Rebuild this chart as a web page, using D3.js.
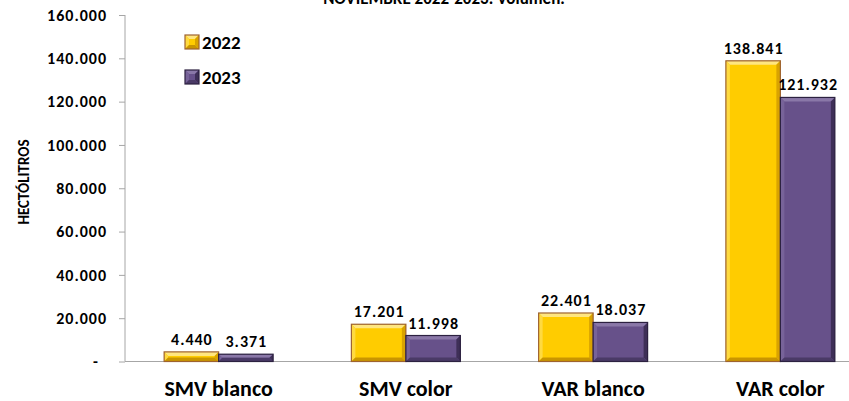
<!DOCTYPE html>
<html><head><meta charset="utf-8">
<script src="https://cdn.jsdelivr.net/npm/d3@7"></script>
<style>body{margin:0;background:#fff}svg{display:block}text{font-family:Calibri,Carlito,"Open Sans",sans-serif}</style>
</head><body>
<svg id="c" width="849" height="401"></svg>
<script>
const categories = ["SMV blanco","SMV color","VAR blanco","VAR color"];
const years = ["2022","2023"];
const values2022 = [4440,17201,22401,138841];
const values2023 = [3371,11998,18037,121932];
const yTicks = [0,20000,40000,60000,80000,100000,120000,140000,160000];
const title = "NOVIEMBRE 2022-2023. Volumen.";
const yTitle = "HECTÓLITROS";

const svg = d3.select("#c");
const fmt = v => v === 0 ? "-" : d3.format(",")(v).replace(/,/g, ".");
const y = d3.scaleLinear().domain([0,160000]).range([361.5,15]);
const x = d3.scaleBand().domain(categories).range([125,874]).paddingInner(0.418).paddingOuter(0.209);
const xs = d3.scaleBand().domain(years).range([0,x.bandwidth()]);

const styles = {
  "2022": {fill:"#FFCC00", top:"#FFE680", left:"#FFDA40", right:"#D9A300", bottom:"#C99500", border:"#9E6330"},
  "2023": {fill:"#67518A", top:"#8A78A8", left:"#776399", right:"#3E2F57", bottom:"#4A3A66", border:"#2C2140"}
};

// title (clipped at top, as in the source image)
svg.append("text").attr("x",444).attr("y",4).attr("text-anchor","middle")
  .attr("font-size",17).attr("font-weight","bold").text(title);

// y axis
const yAxis = d3.axisLeft(y).tickValues(yTicks).tickSize(6).tickFormat(fmt);
const ga = svg.append("g").attr("transform","translate(125,0)").call(yAxis);
ga.select(".domain").attr("stroke","#A6A6A6").attr("d","M0,15V361.5");
ga.selectAll(".tick line").attr("stroke","#A6A6A6");
ga.selectAll(".tick text").attr("font-size",16).attr("font-weight","bold").attr("fill","#000")
  .attr("x", d => d === 0 ? -26 : -18)
  .attr("letter-spacing","1px")
  .attr("font-family","Calibri,Carlito,'Open Sans',sans-serif");

// baseline
svg.append("line").attr("x1",125).attr("x2",849).attr("y1",y(0)).attr("y2",y(0)).attr("stroke","#A6A6A6");

// y title
svg.append("text").attr("transform","translate(29,182) rotate(-90)").attr("text-anchor","middle")
  .attr("font-size",15).attr("font-weight","bold").text(yTitle);

const data = [];
categories.forEach((c,i)=>{
  data.push({cat:c, year:"2022", v:values2022[i]});
  data.push({cat:c, year:"2023", v:values2023[i]});
});

function bevelBar(g, x0, y0, w, h, st){
  const b = Math.min(4, h/2, w/2);
  g.append("rect").attr("x",x0).attr("y",y0).attr("width",w).attr("height",h).attr("fill",st.fill);
  const x1 = x0+w, y1 = y0+h;
  const poly = (pts, f) => g.append("polygon").attr("points", pts.map(p=>p.join(",")).join(" ")).attr("fill", f);
  poly([[x0,y0],[x1,y0],[x1-b,y0+b],[x0+b,y0+b]], st.top);
  poly([[x0,y0],[x0+b,y0+b],[x0+b,y1-b],[x0,y1]], st.left);
  poly([[x1,y0],[x1,y1],[x1-b,y1-b],[x1-b,y0+b]], st.right);
  poly([[x0,y1],[x0+b,y1-b],[x1-b,y1-b],[x1,y1]], st.bottom);
  g.append("rect").attr("x",x0).attr("y",y0).attr("width",w).attr("height",h)
    .attr("fill","none").attr("stroke",st.border).attr("stroke-width",1.2);
}

const bars = svg.append("g");
data.forEach(d=>{
  const bx = x(d.cat) + xs(d.year);
  const by = y(d.v);
  bevelBar(bars.append("g"), bx, by, xs.bandwidth(), y(0)-by, styles[d.year]);
  bars.append("text").attr("x", bx + xs.bandwidth()/2 + 0.5).attr("y", by - 7).attr("text-anchor","middle")
    .attr("font-size",16).attr("font-weight","bold").attr("letter-spacing","1px").text(fmt(d.v));
});

// category labels
categories.forEach(c=>{
  svg.append("text").attr("x", x(c)+x.bandwidth()/2).attr("y",396).attr("text-anchor","middle")
    .attr("font-size",22).attr("font-weight","bold").text(c);
});

// legend
years.forEach((yr,i)=>{
  const ly = 35 + i*35;
  bevelBar(svg.append("g"), 185, ly, 14, 14, styles[yr]);
  svg.append("text").attr("x",202).attr("y",ly+13.5).attr("font-size",19).attr("font-weight","bold").text(yr);
});
</script>
</body></html>
